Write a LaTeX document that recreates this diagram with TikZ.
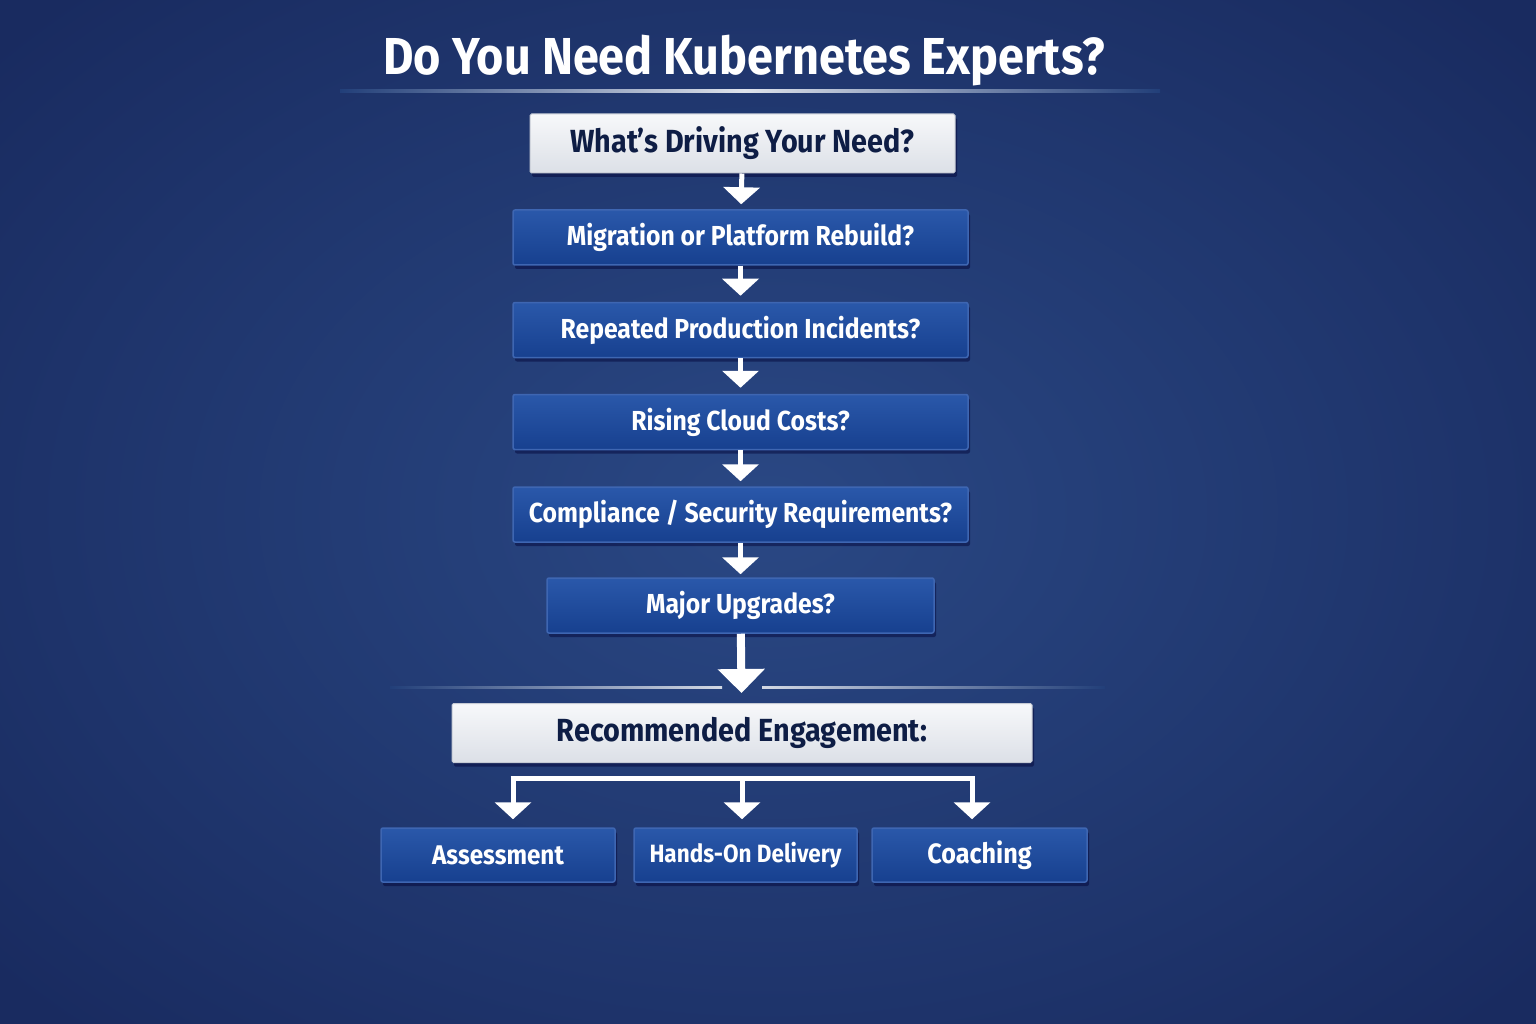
\documentclass[tikz,border=0pt]{standalone}
\usepackage{fontspec}
\newfontfamily\fb{Fira Sans}[FakeStretch=0.9]
\usetikzlibrary{arrows.meta,shadows}
\definecolor{bgin}{HTML}{2A4884}
\definecolor{bgout}{HTML}{192B60}
\definecolor{bgmid}{HTML}{223F79}
\definecolor{btop}{HTML}{2A58AA}
\definecolor{bbot}{HTML}{17408F}
\definecolor{bbord}{HTML}{3E66B2}
\definecolor{ltop}{HTML}{F7F8FA}
\definecolor{lbot}{HTML}{DCE0E7}
\definecolor{lbord}{HTML}{C5CAD4}
\definecolor{navytxt}{HTML}{0E1D45}
\tikzset{
  bluebox/.style={draw=bbord, line width=1.5pt, rounded corners=2pt,
    top color=btop, bottom color=bbot, text=white,
    font=\fb\bfseries\fontsize{27.5}{32}\selectfont,
    minimum height=55pt, inner sep=0pt,
    drop shadow={shadow xshift=2pt, shadow yshift=-4pt, opacity=0.45, fill=black!80!blue}},
  lightbox/.style={draw=lbord, line width=1pt, rounded corners=1.5pt,
    top color=ltop, bottom color=lbot, text=navytxt,
    font=\fb\bfseries\fontsize{32}{38}\selectfont,
    minimum height=59pt, inner sep=0pt,
    drop shadow={shadow xshift=2pt, shadow yshift=-4pt, opacity=0.45, fill=black!80!blue}},
  arr/.style={draw=white, line width=5pt, -{Triangle[width=36pt,length=17pt]}},
  bigarr/.style={draw=white, line width=8pt, -{Triangle[width=46pt,length=24pt]}},
  forkline/.style={draw=white, line width=5pt}
}
\begin{document}
\begin{tikzpicture}[x=1pt,y=-1pt]
\useasboundingbox (0,0) rectangle (1536,1024);
\shade[inner color=bgin, outer color=bgout] (-250,-200) rectangle (1786,1224);
% title
\node[text=white, font=\fb\bfseries\fontsize{52}{58}\selectfont] (title) at (744,61) {Do You Need Kubernetes Experts?};
\shade[left color=bgmid, right color=white!85!bgmid] (340,90) rectangle (744,92.5);
\shade[left color=white!85!bgmid, right color=bgmid] (744,90) rectangle (1160,92.5);
% boxes
\node[lightbox, minimum width=425pt] (b1) at (742.5,143.5) {What’s Driving Your Need?};
\node[bluebox, minimum width=455pt] (b2) at (740.5,237.5) {Migration or Platform Rebuild?};
\node[bluebox, minimum width=455pt] (b3) at (740.5,330) {Repeated Production Incidents?};
\node[bluebox, minimum width=455pt] (b4) at (740.5,422) {Rising Cloud Costs?};
\node[bluebox, minimum width=455pt] (b5) at (740.5,514.5) {Compliance / Security Requirements?};
\node[bluebox, minimum width=387pt] (b6) at (740.5,605.5) {Major Upgrades?};
\node[lightbox, minimum width=580pt] (b7) at (742,733) {Recommended Engagement:};
\node[bluebox, minimum width=234pt, minimum height=54pt, font=\fb\bfseries\fontsize{27}{32}\selectfont] (c1) at (498,855) {Assessment};
\node[bluebox, minimum width=223pt, minimum height=54pt, font=\fb\bfseries\fontsize{25}{30}\selectfont] (c2) at (745.5,855) {Hands-On Delivery};
\node[bluebox, minimum width=215pt, minimum height=54pt, font=\fb\bfseries\fontsize{28}{32}\selectfont] (c3) at (979.5,855) {Coaching};
% separator
\shade[left color=bgmid, right color=white!80!bgmid] (390,686) rectangle (722,688.5);
\shade[left color=white!80!bgmid, right color=bgmid] (762,686) rectangle (1105,688.5);
% arrows
\draw[arr, shorten >=5pt] (b1) -- (b2);
\draw[arr, shorten >=6pt] (b2) -- (b3);
\draw[arr, shorten >=6pt] (b3) -- (b4);
\draw[arr, shorten >=5pt] (b4) -- (b5);
\draw[arr, shorten >=3pt] (b5) -- (b6);
\draw[bigarr, shorten >=10pt] (b6) -- (b7);
% fork
\coordinate (fl) at (513,778);
\coordinate (fc) at (742,778);
\coordinate (fr) at (972,778);
\draw[forkline] ([xshift=-2.5pt]fl) -- ([xshift=2.5pt]fr);
\draw[arr, shorten >=8pt] ([yshift=-2.5pt]fl) -- (fl |- c1.north);
\draw[arr, shorten >=8pt] ([yshift=-2.5pt]fc) -- (fc |- c2.north);
\draw[arr, shorten >=8pt] ([yshift=-2.5pt]fr) -- (fr |- c3.north);
\end{tikzpicture}
\end{document}
